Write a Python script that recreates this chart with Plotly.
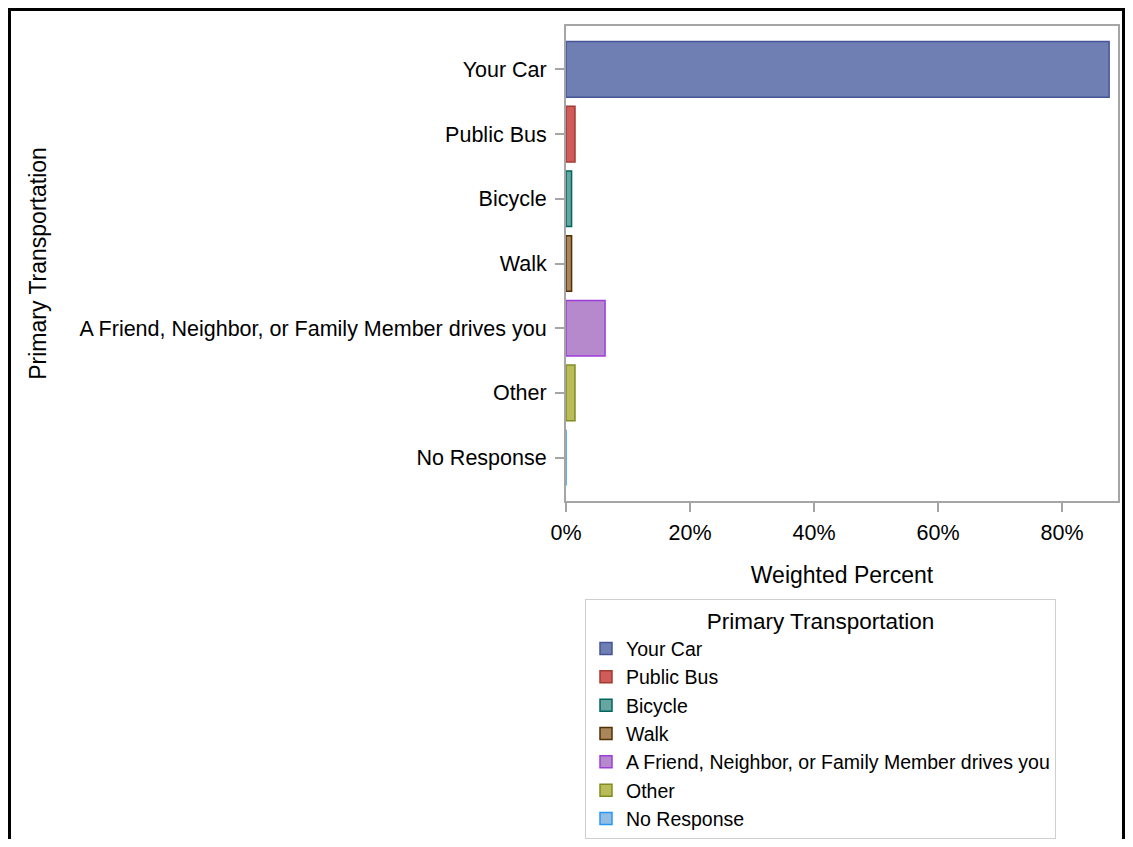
import plotly.graph_objects as go

# ---- data ----
categories = ["Your Car", "Public Bus", "Bicycle", "Walk",
              "A Friend, Neighbor, or Family Member drives you", "Other", "No Response"]
weighted_percent = [87.6, 1.45, 0.9, 0.9, 6.3, 1.45, 0.0]
fill_colors = ["#6F7EB3", "#D05B5B", "#66A5A0", "#A9865B", "#B689CD", "#BABC5C", "#94BDE1"]
line_colors = ["#445694", "#A23A2E", "#01665E", "#543005", "#9D3CDB", "#7F8E1F", "#2597FA"]
x_tick_values = [0, 20, 40, 60, 80]
x_tick_labels = ["0%", "20%", "40%", "60%", "80%"]

# ---- layout geometry (page pixels; page body has an 8px margin) ----
OFF = 8
W, H = 1133 - 2 * OFF, 847 - 2 * OFF
PL, PR, PT, PB = 566, 1118, 26, 501   # plot area edges in page pixels
pw, ph = PR - PL, PB - PT
ML, MR, MT, MB = PL - OFF, W - (PR - OFF), PT - OFF, H - (PB - OFF)

def px_x(px):
    return (px - PL) / pw

def px_y(py):
    return (PB - py) / ph

FONT = "Liberation Sans, Arial, sans-serif"
AXIS_GRAY = "#A5A5A5"

fig = go.Figure()
for cat, val, fc, lc in zip(categories, weighted_percent, fill_colors, line_colors):
    fig.add_trace(go.Bar(
        x=[val], y=[cat], orientation="h", name=cat,
        width=0.86,
        marker=dict(color=fc, line=dict(color=lc, width=1.5)),
        hovertemplate="%{y}: %{x:.1f}%<extra></extra>",
    ))

fig.update_layout(
    width=W, height=H,
    margin=dict(l=ML, r=MR, t=MT, b=MB, pad=0, autoexpand=False),
    paper_bgcolor="white", plot_bgcolor="white",
    barmode="overlay",
    font=dict(family=FONT, size=21.5, color="#000000"),
    xaxis=dict(
        range=[0, (PR - PL) / 6.2],
        tickmode="array", tickvals=x_tick_values, ticktext=x_tick_labels,
        showgrid=False, zeroline=False, layer="above traces",
        showline=True, mirror=True, linecolor=AXIS_GRAY, linewidth=1.5,
        ticks="outside", ticklen=9, tickcolor=AXIS_GRAY, tickwidth=1.5,
        ticklabelstandoff=2,
        title=dict(text="Weighted Percent", font=dict(size=23), standoff=23),
    ),
    yaxis=dict(
        categoryorder="array", categoryarray=categories,
        range=[6.67, -0.67],
        showgrid=False, zeroline=False, layer="above traces",
        showline=True, mirror=True, linecolor=AXIS_GRAY, linewidth=2,
        ticks="outside", ticklen=9, tickcolor=AXIS_GRAY, tickwidth=1.5,
        ticklabelstandoff=4,
        title=dict(text="Primary Transportation", font=dict(size=23), standoff=26),
    ),
    legend=dict(
        title=dict(text="Primary Transportation", side="top center", font=dict(size=22.5)),
        x=px_x(585), y=px_y(599), xanchor="left", yanchor="top",
        bgcolor="white", bordercolor="#CFCFCF", borderwidth=1,
        font=dict(size=19.5), traceorder="normal",
    ),
    showlegend=True,
    shapes=[dict(
        type="rect", xref="paper", yref="paper",
        x0=px_x(OFF + 1.5), x1=px_x(OFF + W - 1.5), y0=px_y(900), y1=px_y(OFF + 1.5),
        line=dict(color="black", width=3), fillcolor="rgba(0,0,0,0)", layer="below",
    )],
)

fig.write_html("out.html")
